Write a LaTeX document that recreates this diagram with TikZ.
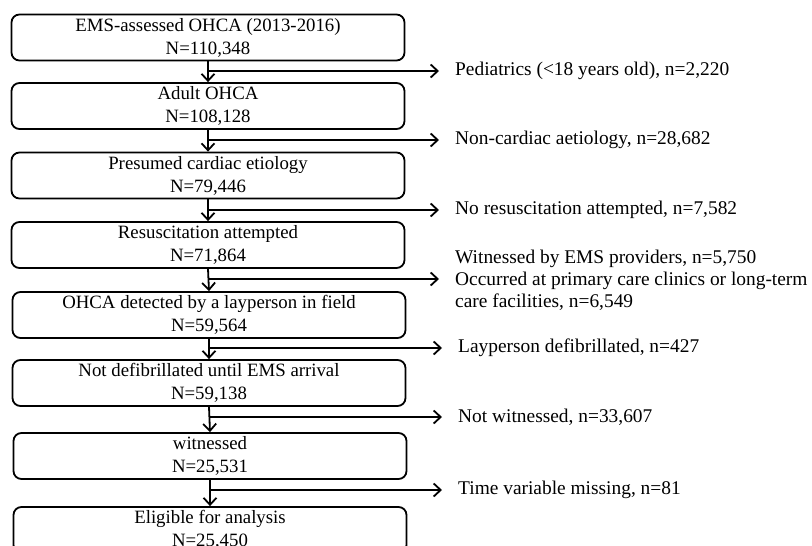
\documentclass[tikz,border=0pt]{standalone}
\usepackage{fontspec}
\setmainfont{Liberation Serif}
\usetikzlibrary{arrows.meta}
\begin{document}
\begin{tikzpicture}[x=1pt,y=-1pt,
  stagebox/.style={draw,line width=1.8pt,rounded corners=8pt,minimum width=393pt,minimum height=46pt,align=center,inner sep=0pt,font=\fontsize{18.8}{23}\selectfont},
  flow/.style={line width=1.8pt,-{Straight Barb[length=7pt,width=13pt,line width=1.8pt]}},
  lbl/.style={anchor=west,align=left,inner sep=0pt,font=\fontsize{19.4}{22}\selectfont}]
\useasboundingbox (0,0) rectangle (812,546);
\clip (0,0) rectangle (812,546);
\fill[white] (0,0) rectangle (812,546);
\node[stagebox] (b1) at (208,37.5) {EMS-assessed OHCA (2013-2016)\\N=110,348};
\node[stagebox] (b2) at (208,106) {Adult OHCA\\N=108,128};
\node[stagebox] (b3) at (208,175.5) {Presumed cardiac etiology\\N=79,446};
\node[stagebox] (b4) at (208,245) {Resuscitation attempted\\N=71,864};
\node[stagebox] (b5) at (209,315) {OHCA detected by a layperson in field\\N=59,564};
\node[stagebox] (b6) at (209,383) {Not defibrillated until EMS arrival\\N=59,138};
\node[stagebox] (b7) at (210,456) {witnessed\\N=25,531};
\node[stagebox] (b8) at (210,530) {Eligible for analysis\\N=25,450};
\coordinate (j1) at (208,71);
\coordinate (j2) at (208,140);
\coordinate (j3) at (208,210);
\coordinate (j4) at (208,279);
\coordinate (j5) at (209,348);
\coordinate (j6) at (209,417);
\coordinate (j7) at (210,490);
\node[lbl] (l1) at (455,71) {Pediatrics (<18 years old), n=2,220};
\node[lbl] (l2) at (455,140) {Non-cardiac aetiology, n=28,682};
\node[lbl] (l3) at (455,210) {No resuscitation attempted, n=7,582};
\node[lbl] (l4) at (455,280) {Witnessed by EMS providers, n=5,750\\Occurred at primary care clinics or long-term\\care facilities, n=6,549};
\node[lbl] (l5) at (458,348) {Layperson defibrillated, n=427};
\node[lbl] (l6) at (458,417) {Not witnessed, n=33,607};
\node[lbl] (l7) at (458,490) {Time variable missing, n=81};
\foreach \a/\b in {1/2,2/3,3/4,4/5,5/6,6/7,7/8}{
  \draw[flow] (b\a.south) -- (b\b.north);
}
\foreach \i in {1,...,7}{
  \draw[flow] (j\i) -- ([xshift=-16pt]l\i.west |- j\i);
}
\end{tikzpicture}
\end{document}
